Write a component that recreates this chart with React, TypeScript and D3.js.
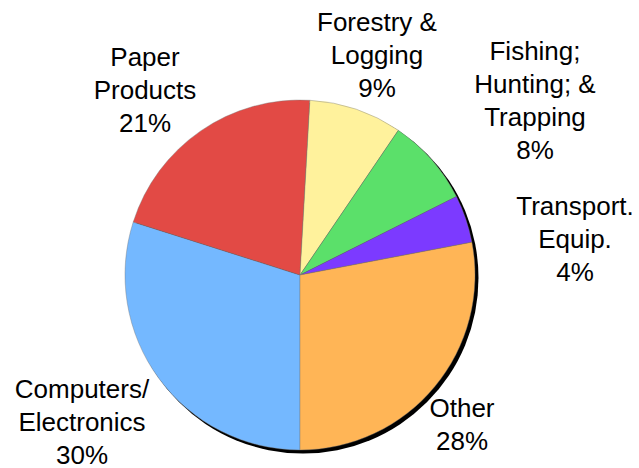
import React from "react";
import * as d3 from "d3";

const categories = ["Computers/Electronics", "Paper Products", "Forestry & Logging", "Fishing; Hunting; & Trapping", "Transport. Equip.", "Other"];
const values = [29.9, 21.0, 8.6, 8.1, 4.4, 28.0];
const labelLines = [
  ["Computers/", "Electronics"],
  ["Paper", "Products"],
  ["Forestry &", "Logging"],
  ["Fishing;", "Hunting; &", "Trapping"],
  ["Transport.", "Equip."],
  ["Other"],
];
const colors = ["#74B8FF", "#E24A45", "#FFF29C", "#5BE06A", "#7C3AFF", "#FFB556"];

// label anchor (center x, first baseline y)
const labelAnchors: [number, number][] = [
  [82, 398],
  [145, 66],
  [377, 31],
  [535, 59.5],
  [575, 214.5],
  [462, 417],
];

const W = 639;
const H = 468;
const CX = 300;
const CY = 275;
const R = 175;
const LH = 33;

export default function App() {
  const data = categories.map((c, i) => ({ c, v: values[i], i }));
  const pie = d3
    .pie<any>()
    .sort(null)
    .value((d) => d.v)
    .startAngle(Math.PI)
    .endAngle(3 * Math.PI);
  const arcs = pie(data);
  const arc = d3.arc<any>().innerRadius(0).outerRadius(R);
  const total = d3.sum(values);

  return (
    <svg
      width={W}
      height={H}
      style={{ position: "absolute", left: 0, top: 0, background: "#fff" }}
      fontFamily="'Liberation Sans', Arial, sans-serif"
    >
      <circle cx={CX + 3} cy={CY + 3} r={R + 0.5} fill="#000" />
      <g transform={`translate(${CX},${CY})`}>
        {arcs.map((a, i) => (
          <path key={i} d={arc(a) as string} fill={colors[i]} stroke="#777" strokeWidth={0.4} />
        ))}
      </g>
      {labelLines.map((lines, i) => {
        const [x, y] = labelAnchors[i];
        const all = [...lines, `${Math.round((values[i] / total) * 100)}%`];
        return (
          <text key={i} textAnchor="middle" fontSize={26} fill="#000">
            {all.map((t, j) => (
              <tspan key={j} x={x} y={y + j * LH}>
                {t}
              </tspan>
            ))}
          </text>
        );
      })}
    </svg>
  );
}
